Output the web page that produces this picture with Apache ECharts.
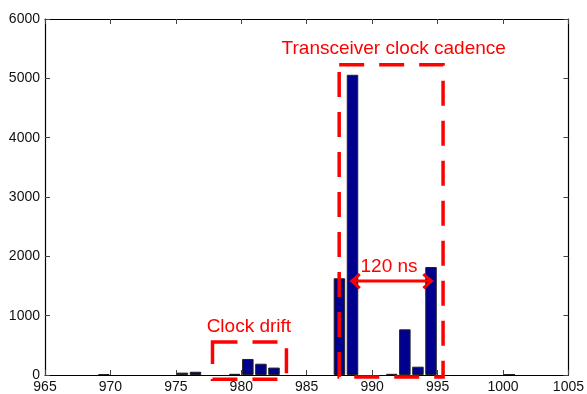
<!DOCTYPE html>
<html>
<head>
<meta charset="utf-8">
<script src="https://cdn.jsdelivr.net/npm/echarts@6/dist/echarts.min.js"></script>
<style>
  html, body { margin: 0; padding: 0; background: #fff; }
  #chart { width: 587px; height: 394px; }
</style>
</head>
<body>
<div id="chart"></div>
<script>
// Histogram of measured intervals (bin centres and counts)
const binCenters = [969.5, 975.5, 976.5, 979.5, 980.5, 981.5, 982.5, 987.5, 988.5, 991.5, 992.5, 993.5, 994.5, 1000.5];
const counts     = [15,    40,    55,    20,    270,   190,   125,   1630,  5060,  20,    770,   140,   1820,  15];

// Axis ranges and tick steps
const xRange = [965, 1005];
const xStep = 5;
const yRange = [0, 6000];
const yStep = 1000;

// Annotation regions in data units: [x0, x1, y0, y1]
const driftBox   = [977.8, 983.45, -70, 555];
const cadenceBox = [987.48, 995.42, -33, 5230];
// Double arrow between the two cadence peaks: [xStart, xEnd, y]
const spanArrow  = [988.37, 994.6, 1584];
// Annotation texts: [text, x, y]
const notes = [
  ['Transceiver clock cadence', 991.65, 5497],
  ['Clock drift', 980.58, 821],
  ['120 ns', 991.29, 1827]
];

const FONT = 'Arial, "Liberation Sans", Helvetica, sans-serif';
const RED = '#ff0000';

const chart = echarts.init(document.getElementById('chart'), null, { renderer: 'canvas' });

const plain = v => String(v);

const framedAxis = (extra) => Object.assign({
  type: 'value',
  axisLine: { show: true, onZero: false, lineStyle: { color: '#000', width: 1.2 } },
  axisTick: { show: true, inside: true, length: 5, lineStyle: { color: '#444', width: 1 } },
  splitLine: { show: false }
}, extra);

chart.setOption({
  animation: false,
  backgroundColor: '#fff',
  grid: { left: 45, right: 17, top: 19, bottom: 17, containLabel: false },
  xAxis: [
    framedAxis({
      position: 'bottom', min: xRange[0], max: xRange[1], interval: xStep,
      axisLabel: { color: '#111', fontSize: 14, fontFamily: FONT, margin: 5, formatter: plain }
    }),
    framedAxis({
      position: 'top', min: xRange[0], max: xRange[1], interval: xStep,
      axisLabel: { show: false }
    })
  ],
  yAxis: [
    framedAxis({
      position: 'left', min: yRange[0], max: yRange[1], interval: yStep,
      axisLabel: { color: '#111', fontSize: 14, fontFamily: FONT, margin: 5, formatter: plain }
    }),
    framedAxis({
      position: 'right', min: yRange[0], max: yRange[1], interval: yStep,
      axisLabel: { show: false }
    })
  ],
  series: [{
    type: 'bar',
    xAxisIndex: 0,
    yAxisIndex: 0,
    barWidth: 11.5,
    data: binCenters.map((c, i) => [c, counts[i]]),
    itemStyle: { color: '#00008f', borderColor: '#222', borderWidth: 1 }
  }]
});

// Red annotations placed through the chart's own coordinate conversion
function px(x, y) {
  return chart.convertToPixel({ gridIndex: 0 }, [x, y]);
}

function dashedBox(b) {
  const p0 = px(b[0], b[3]);
  const p1 = px(b[1], b[2]);
  return {
    type: 'rect',
    shape: { x: p0[0], y: p0[1], width: p1[0] - p0[0], height: p1[1] - p0[1] },
    style: { fill: null, stroke: RED, lineWidth: 3.5, lineDash: [25, 15] },
    z: 100
  };
}

const graphics = [dashedBox(driftBox), dashedBox(cadenceBox)];

const a0 = px(spanArrow[0], spanArrow[2]);
const a1 = px(spanArrow[1], spanArrow[2]);
const ay = a0[1];
graphics.push(
  { type: 'line', shape: { x1: a0[0] + 2, y1: ay, x2: a1[0] - 2, y2: ay },
    style: { stroke: RED, lineWidth: 3 }, z: 100 },
  { type: 'polyline', shape: { points: [[a0[0] + 9, ay - 7], [a0[0] + 1, ay], [a0[0] + 9, ay + 7]] },
    style: { stroke: RED, lineWidth: 3, fill: null }, z: 100 },
  { type: 'polyline', shape: { points: [[a1[0] - 9, ay - 7], [a1[0] - 1, ay], [a1[0] - 9, ay + 7]] },
    style: { stroke: RED, lineWidth: 3, fill: null }, z: 100 }
);

notes.forEach(n => {
  const p = px(n[1], n[2]);
  graphics.push({
    type: 'text', x: p[0], y: p[1], z: 101,
    style: { text: n[0], fill: RED, font: '19px ' + FONT, align: 'center', verticalAlign: 'middle' }
  });
});

chart.setOption({ graphic: graphics });
</script>
</body>
</html>
